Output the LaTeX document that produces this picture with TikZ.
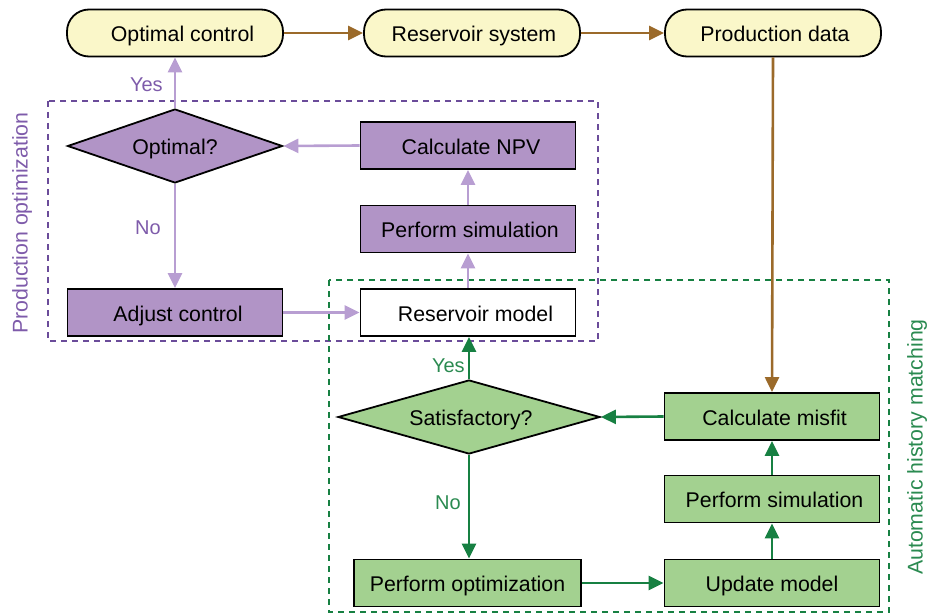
\documentclass[tikz,border=0pt]{standalone}
\usepackage{fontspec}
\setmainfont{Liberation Sans}
\usetikzlibrary{shapes.geometric,arrows.meta}
\definecolor{cream}{HTML}{FAF7C9}
\definecolor{pfill}{HTML}{B194C6}
\definecolor{parrow}{HTML}{B89ED2}
\definecolor{ptext}{HTML}{7E5BAA}
\definecolor{pdash}{HTML}{6B4C9A}
\definecolor{gfill}{HTML}{A3D190}
\definecolor{garrow}{HTML}{178042}
\definecolor{gtext}{HTML}{2A8A50}
\definecolor{brown}{HTML}{9B6A2A}
\tikzset{
  every node/.style={font=\fontsize{21.3}{25}\selectfont, inner sep=0pt},
  txt/.style={text height=17pt, text depth=0pt},
  terminal/.style={txt, draw=black, line width=1.8pt, fill=cream, rounded corners=22pt, minimum width=216pt, minimum height=47pt},
  pbox/.style={txt, draw=black, line width=1.8pt, fill=pfill, minimum width=215pt, minimum height=47pt},
  gbox/.style={txt, draw=black, line width=1.8pt, fill=gfill, minimum width=215pt, minimum height=47pt},
  wbox/.style={txt, draw=black, line width=1.8pt, fill=white, minimum width=215pt, minimum height=47pt},
  pdia/.style={txt, draw=black, line width=1.8pt, fill=pfill, shape=diamond, aspect=2.9, minimum width=215pt, minimum height=74pt},
  gdia/.style={txt, draw=black, line width=1.8pt, fill=gfill, shape=diamond, aspect=3.5, minimum width=262pt, minimum height=74pt},
  tip/.style={-{Triangle[length=15pt,width=14pt]}},
  barr/.style={draw=brown, line width=2.6pt, tip},
  parr/.style={draw=parrow, line width=2.6pt, tip},
  garr/.style={draw=garrow, line width=2.6pt, tip},
  plabel/.style={txt, text=ptext, font=\fontsize{20}{24}\selectfont},
  glabel/.style={txt, text=gtext, font=\fontsize{20}{24}\selectfont},
  pframe/.style={draw=pdash, line width=1.8pt, dash pattern=on 6pt off 5pt},
  gframe/.style={draw=garrow, line width=1.8pt, dash pattern=on 6pt off 5pt},
}
\begin{document}
\begin{tikzpicture}[x=1pt,y=-1pt]
\useasboundingbox (0,0) rectangle (937,615);
% frames
\draw[pframe] (48,101) rectangle (598,341);
\draw[gframe] (329,280) rectangle (889,612);
% top row
\node[terminal] (oc) at (175,33) {\hspace*{15pt}Optimal control};
\node[terminal] (rs) at (472,33) {\hspace*{4pt}Reservoir system};
\node[terminal] (pd) at (773,33) {\hspace*{4pt}Production data};
% production optimization
\node[pdia] (opt) at (175,146) {Optimal?};
\node[pbox] (npv) at (468,145.5) {\hspace*{6pt}Calculate NPV};
\node[pbox] (psim) at (468,229) {\hspace*{4pt}Perform simulation};
\node[pbox] (adj) at (175,312.5) {\hspace*{6pt}Adjust control};
\node[wbox] (rm) at (468,312.5) {\hspace*{15pt}Reservoir model};
% history matching
\node[gdia] (sat) at (469,417) {\hspace*{4pt}Satisfactory?};
\node[gbox] (mis) at (772,416.5) {\hspace*{5pt}Calculate misfit};
\node[gbox] (gsim) at (772,499) {\hspace*{5pt}Perform simulation};
\node[gbox, minimum width=227pt] (popt) at (467.5,583) {Perform optimization};
\node[gbox] (upd) at (772,583) {Update model};
% side labels
\node[rotate=90, text=ptext] (lpo) at (22,223) {Production optimization};
\node[rotate=90, text=gtext] (lhm) at (917,447) {Automatic history matching};
% brown arrows
\draw[barr] (oc) -- (rs);
\draw[barr] (rs) -- (pd);
\draw[barr] (pd.south) -- (mis.north);
% purple arrows
\draw[parr] (opt.north) -- node[plabel, left=11pt, pos=0.5] (yes1) {Yes} (oc.south);
\draw[parr] (npv.west) -- (opt.east);
\draw[parr] (psim) -- (npv);
\draw[parr] (rm) -- (psim);
\draw[parr] (opt.south) -- node[plabel, left=13pt, pos=0.4] (no1) {No} (adj.north);
\draw[parr] (adj) -- (rm);
% green arrows
\draw[garr] (sat.north) -- node[glabel, left=3pt, pos=0.35] (yes2) {Yes} (rm.south -| sat.north);
\draw[garr] (mis.west) -- (sat.east);
\draw[garr] (sat.south) -- node[glabel, left=7pt, pos=0.44] (no2) {No} (popt.north -| sat.south);
\draw[garr] (popt) -- (upd);
\draw[garr] (upd) -- (gsim);
\draw[garr] (gsim) -- (mis);
\end{tikzpicture}
\end{document}
